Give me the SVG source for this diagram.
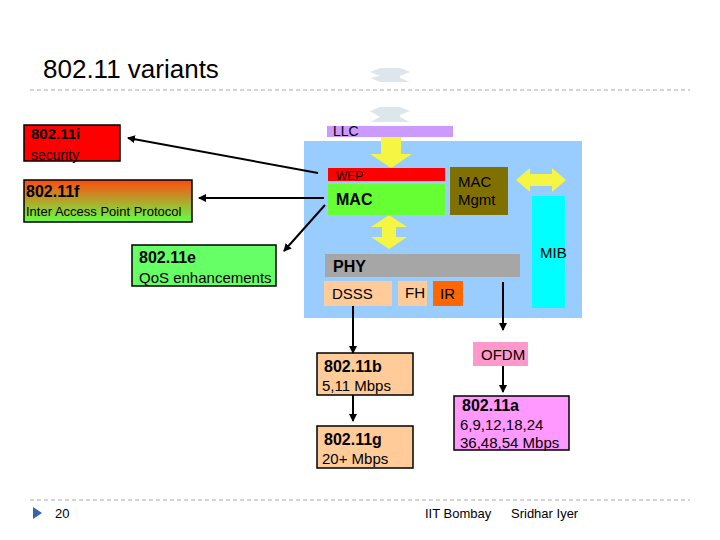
<svg xmlns="http://www.w3.org/2000/svg" width="720" height="540" viewBox="0 0 720 540">
<style>
text{font-family:"Liberation Sans",Arial,sans-serif;fill:#000}
.b{font-weight:bold}
.c{stroke:#000;stroke-width:2;fill:none}
.y{fill:#f5f542}
</style>
<defs>
<marker id="ah" markerWidth="8" markerHeight="8" refX="7" refY="4" orient="auto" markerUnits="userSpaceOnUse"><path d="M0,0 L8,4 L0,8 Z" fill="#000"/></marker>
<linearGradient id="gf" x1="0" y1="0" x2="0" y2="1"><stop offset="0" stop-color="#ff4a10"/><stop offset="1" stop-color="#66ff44"/></linearGradient>
</defs>
<rect width="720" height="540" fill="#fff"/>
<text x="43" y="78" font-size="26" fill="#222">802.11 variants</text>
<line x1="30" y1="90" x2="690" y2="90" stroke="#aaa" stroke-dasharray="4,3"/>
<line x1="30" y1="500" x2="690" y2="500" stroke="#aaa" stroke-dasharray="4,3"/>
<g fill="#dde6ea"><path d="M370,72 L380,68 L400,68 L410,72 L400,76 L400,78 L410,82 L380,82 L370,78 L380,76 Z"/><path d="M370,111 L380,107 L400,107 L410,111 L400,115 L400,117 L410,122 L370,122 L380,117 Z"/></g>
<g id="main"><rect x="304" y="141" width="278" height="177" fill="#99ccff"/></g>
<g id="llc"><rect x="327" y="126" width="126" height="11" fill="#cc99ff"/><text x="333" y="136" font-size="14">LLC</text></g>
<g id="arrows-y" class="y">
<path d="M381,137 L401,137 L401,154 L412,154 L391,168 L370,154 L381,154 Z"/>
<path d="M516,180 L530,168 L530,174 L552,174 L552,168 L566,180 L552,192 L552,186 L530,186 L530,192 Z"/>
<path d="M389,215 L407,227 L396,227 L396,237 L407,237 L389,249 L371,237 L382,237 L382,227 L371,227 Z"/>
</g>
<g id="wep"><rect x="328" y="168" width="117" height="13" fill="#ff0000"/><text x="336" y="180" font-size="12" fill="#660000">WEP</text></g>
<g id="mac"><rect x="328" y="184" width="117" height="31" fill="#66ff33"/><text x="336" y="205" font-size="16" class="b">MAC</text></g>
<g id="macmgmt"><rect x="450" y="167" width="58" height="48" fill="#807000"/><text x="458" y="187" font-size="15">MAC</text><text x="458" y="205" font-size="15">Mgmt</text></g>
<g id="mib"><rect x="532" y="196" width="33" height="112" fill="#00ffff"/><text x="540" y="258" font-size="15">MIB</text></g>
<g id="phy"><rect x="325" y="254" width="195" height="23" fill="#a6a6a6"/><text x="333" y="272" font-size="16" class="b">PHY</text></g>
<g id="dsss"><rect x="324" y="281" width="68" height="25" fill="#ffcc99"/><text x="332" y="299" font-size="15">DSSS</text></g>
<g id="fh"><rect x="398" y="281" width="29" height="25" fill="#ffcc99"/><text x="405" y="298" font-size="15">FH</text></g>
<g id="ir"><rect x="433" y="281" width="30" height="25" fill="#ff6600"/><text x="440" y="299" font-size="15">IR</text></g>
<g id="ofdm"><rect x="473" y="342" width="55" height="24" fill="#ff99cc"/><text x="481" y="360" font-size="15" fill="#fff">OFDM</text></g>
<g id="n11i"><rect x="24" y="125" width="96" height="36" fill="#ff0000" stroke="#000" stroke-width="1.5"/><text x="31" y="139" font-size="15" class="b" fill="#fff">802.11i</text><text x="31" y="160" font-size="14" fill="#fff">security</text></g>
<g id="n11f"><rect x="24" y="180" width="168" height="42" fill="url(#gf)" stroke="#000" stroke-width="1.5"/><text x="26" y="197" font-size="16" class="b">802.11f</text><text x="26" y="216" font-size="13">Inter Access Point Protocol</text></g>
<g id="n11e"><rect x="132" y="245" width="144" height="41" fill="#66ff66" stroke="#000" stroke-width="1.5"/><text x="139" y="263" font-size="16" class="b">802.11e</text><text x="139" y="283" font-size="15">QoS enhancements</text></g>
<g id="n11b"><rect x="317" y="353" width="96" height="42" fill="#ffcc99" stroke="#000" stroke-width="1.5"/><text x="324" y="372" font-size="16" class="b">802.11b</text><text x="322" y="391" font-size="15">5,11 Mbps</text></g>
<g id="n11g"><rect x="317" y="426" width="96" height="42" fill="#ffcc99" stroke="#000" stroke-width="1.5"/><text x="324" y="445" font-size="16" class="b">802.11g</text><text x="322" y="464" font-size="15">20+ Mbps</text></g>
<g id="n11a"><rect x="454" y="396" width="115" height="54" fill="#ff99ff" stroke="#000" stroke-width="1.5"/><text x="462" y="411" font-size="16" class="b">802.11a</text><text x="460" y="430" font-size="15">6,9,12,18,24</text><text x="460" y="448" font-size="15">36,48,54 Mbps</text></g>
<g id="connectors">
<line class="c" x1="318" y1="173" x2="128" y2="138" marker-end="url(#ah)"/>
<line class="c" x1="324" y1="198" x2="199" y2="198" marker-end="url(#ah)"/>
<line class="c" x1="325" y1="205" x2="284" y2="251" marker-end="url(#ah)"/>
<line class="c" x1="353" y1="306" x2="353" y2="353" marker-end="url(#ah)"/>
<line class="c" x1="353" y1="395" x2="353" y2="421" marker-end="url(#ah)"/>
<line class="c" x1="503" y1="282" x2="503" y2="330" marker-end="url(#ah)"/>
<line class="c" x1="503" y1="366" x2="503" y2="392" marker-end="url(#ah)"/>
</g>
<path d="M33,507 L42,513 L33,519 Z" fill="#3366aa"/>
<text x="55" y="518" font-size="13" fill="#444">20</text>
<text x="425" y="518" font-size="13" fill="#444">IIT Bombay</text>
<text x="511" y="518" font-size="13" fill="#444">Sridhar Iyer</text>
</svg>
